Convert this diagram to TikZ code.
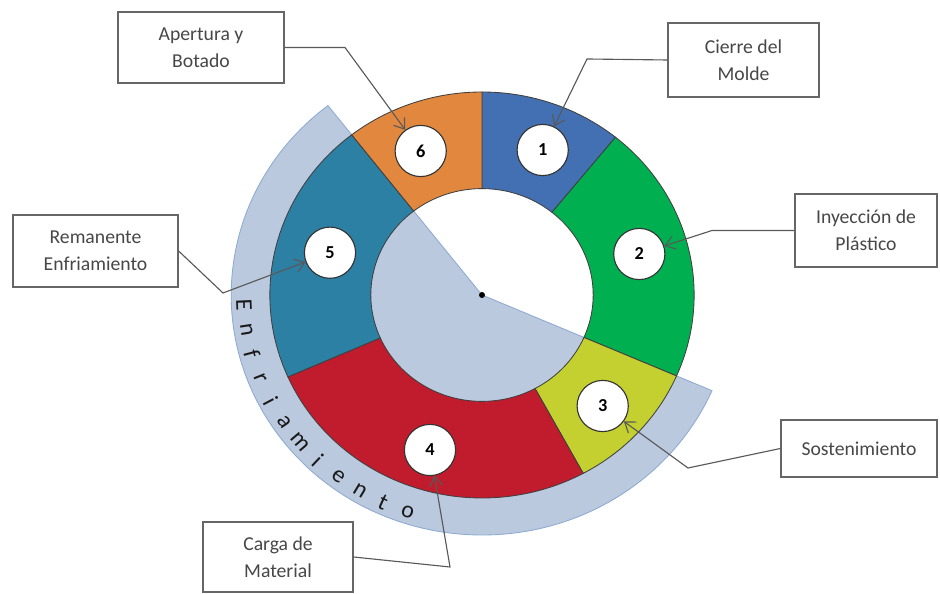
\documentclass[tikz,border=0pt]{standalone}
\usepackage{fontspec}
\setmainfont{Carlito}
\usetikzlibrary{arrows.meta}

\definecolor{cUno}{RGB}{66,112,178}
\definecolor{cDos}{RGB}{0,176,80}
\definecolor{cTres}{RGB}{196,208,48}
\definecolor{cCuatro}{RGB}{192,28,45}
\definecolor{cCinco}{RGB}{44,128,164}
\definecolor{cSeis}{RGB}{226,136,62}
\definecolor{banda}{RGB}{186,201,222}
\definecolor{bandaBorde}{RGB}{140,170,210}

\begin{document}
\begin{tikzpicture}[
            caja/.style={draw=black!60, line width=0.9pt, fill=white, align=center,
                text=black!72, inner sep=0pt, font=\fontsize{14}{19.5}\selectfont},
            num/.style={circle, draw=black!80, line width=0.8pt, fill=white,
                minimum size=1.28cm, inner sep=0pt, font=\fontsize{13}{13}\selectfont\bfseries},
            flecha/.style={draw=black!65, line width=0.8pt,
                -{Straight Barb[length=2.4mm,width=3.4mm]}}]

            \fill[white] (-12.05,-7.475) rectangle (11.45,7.375);
            \useasboundingbox (-12.05,-7.475) rectangle (11.45,7.375);

            \begin{scope}[xscale=1.045]
                % banda de enfriamiento
                \filldraw[fill=banda, draw=bandaBorde, line width=0.6pt]
                    (0,0) -- (127.9:6) arc[start angle=127.9, end angle=336.5, radius=6] -- cycle;

                % sectores del ciclo
                \foreach \a/\b/\c in {51/90/cUno, -23.5/51/cDos, -61.5/-23.5/cTres,
                        -156.2/-61.5/cCuatro, 127.9/203.8/cCinco, 90/127.9/cSeis}
                {
                    \filldraw[fill=\c, draw=black!75, line width=0.6pt]
                        (\a:5.075) arc[start angle=\a, end angle=\b, radius=5.075]
                        -- (\b:2.66) arc[start angle=\b, end angle=\a, radius=2.66] -- cycle;
                }

                \foreach \l [count=\i from 0] in {E,n,f,r,i,a,m,i,e,n,t,o}
                {
                    \node[rotate={272.5+\i*6.3}, text=black!90, inner sep=0pt,
                        font=\fontsize{17}{17}\selectfont] (letra\i) at ({182.5+\i*6.3}:5.7) {\l};
                }
            \end{scope}

            \fill[black] (0,0) circle (0.075);

            \node[num] (n1) at (1.5175,3.625) {1};
            \node[num] (n2) at (3.9325,1.025) {2};
            \node[num] (n3) at (3.0175,-2.775) {3};
            \node[num] (n4) at (-1.3,-3.875) {4};
            \node[num] (n5) at (-3.8,1.0575) {5};
            \node[num] (n6) at (-1.5325,3.6) {6};

            \node[caja, minimum width=4.15cm, minimum height=1.775cm] (apertura) at (-7.025,6.1875) {Apertura y\\Botado};
            \node[caja, minimum width=3.775cm, minimum height=1.85cm] (cierre) at (6.5375,5.875) {Cierre del\\Molde};
            \node[caja, minimum width=3.55cm, minimum height=1.825cm] (inyeccion) at (9.6,1.6125) {Inyección de\\Plástico};
            \node[caja, minimum width=4.125cm, minimum height=1.8cm] (remanente) at (-9.6625,1.1) {Remanente\\Enfriamiento};
            \node[caja, minimum width=3.9cm, minimum height=1.425cm] (sostenimiento) at (9.425,-3.8375) {Sostenimiento};
            \node[caja, minimum width=3.75cm, minimum height=1.75cm] (carga) at (-5.1,-6.55) {Carga de\\Material};

            \coordinate (codo6) at (-3.425,6.1875);
            \coordinate (codo1) at (2.625,5.9);
            \coordinate (codo2) at (5.75,1.6125);
            \coordinate (codo3) at (5.15,-4.325);
            \coordinate (codo4) at (-0.8,-6.8);
            \coordinate (codo5) at (-6.475,0.05);

            \draw[flecha] (apertura.east) -- (codo6) -- (n6);
            \draw[flecha] (cierre.west) -- (codo1) -- (n1);
            \draw[flecha] (inyeccion.west) -- (codo2) -- (n2);
            \draw[flecha] (sostenimiento.west) -- (codo3) -- (n3);
            \draw[flecha] (carga.east) -- (codo4) -- (n4);
            \draw[flecha] (remanente.east) -- (codo5) -- (n5);
        \end{tikzpicture}
\end{document}
